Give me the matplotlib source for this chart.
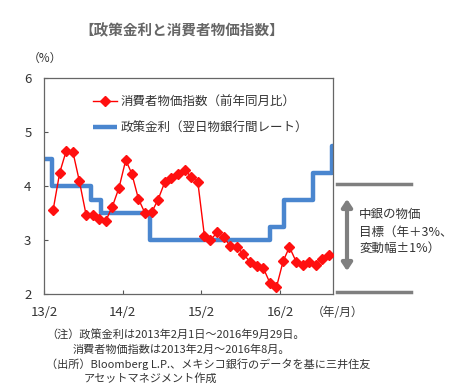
import matplotlib
matplotlib.use("Agg")
import matplotlib.pyplot as plt
import matplotlib.dates as mdates
import pandas as pd
import numpy as np

plt.rcParams['font.family'] = ['Noto Sans CJK JP', 'DejaVu Sans']

# CPI (YoY %), monthly Feb 2013 - Aug 2016
cpi_months = pd.date_range("2013-02-15", periods=43, freq="MS") + pd.Timedelta(days=14)
cpi_values = [3.55, 4.25, 4.65, 4.63, 4.09, 3.47, 3.46, 3.39, 3.36, 3.62, 3.97,
              4.48, 4.23, 3.76, 3.50, 3.51, 3.75, 4.07, 4.15, 4.22, 4.30, 4.17, 4.08,
              3.07, 3.00, 3.14, 3.06, 2.88, 2.87, 2.74, 2.59, 2.52, 2.48, 2.21, 2.13,
              2.61, 2.87, 2.60, 2.54, 2.60, 2.54, 2.65, 2.73]

# Policy rate change dates and levels
rate_dates = pd.to_datetime(["2013-02-01", "2013-03-08", "2013-09-06", "2013-10-25",
                             "2014-06-06", "2015-12-17", "2016-02-17", "2016-06-30",
                             "2016-09-29", "2016-10-03"])
rate_values = [4.50, 4.00, 3.75, 3.50, 3.00, 3.25, 3.75, 4.25, 4.75, 4.75]

xtick_dates = pd.to_datetime(["2013-02-01", "2014-02-01", "2015-02-01", "2016-02-01"])
xtick_labels = ["13/2", "14/2", "15/2", "16/2"]
yticks = [2, 3, 4, 5, 6]

fig = plt.figure(figsize=(4.62, 3.92), dpi=100)
ax = fig.add_axes([44/462, 1-294/392, (333-44)/462, (294-78)/392])

ax.plot(rate_dates, rate_values,
        drawstyle="steps-post", color="#4a86cf", lw=3.2, zorder=2,
        label="政策金利（翌日物銀行間レート）", solid_capstyle="butt")
ax.plot(cpi_months, cpi_values, color="#ff0000", lw=1.0, marker="D", ms=5.2,
        mfc="#ff1010", mec="#ff1010", zorder=3, label="消費者物価指数（前年同月比）")

ax.set_xlim(pd.Timestamp("2013-02-01"), pd.Timestamp("2016-10-03"))
ax.set_ylim(2, 6)
ax.set_yticks(yticks)
ax.set_xticks(xtick_dates)
ax.set_xticklabels(xtick_labels)
ax.tick_params(direction="in", length=3, color="#555555", labelsize=9.5,
               labelcolor="#333333")
ax.tick_params(axis="x", pad=9)
ax.tick_params(axis="y", pad=9)
for s in ax.spines.values():
    s.set_color("#666666")
    s.set_linewidth(0.9)

h, l = ax.get_legend_handles_labels()
leg = ax.legend(h[::-1], l[::-1], loc="upper left", bbox_to_anchor=(0.13, 0.97),
                frameon=False, fontsize=9, handlelength=1.9, labelspacing=1.05,
                handletextpad=0.3)
for t in leg.get_texts():
    t.set_color("#333333")

fig.text(182/462, 1-30/392, "【政策金利と消費者物価指数】", ha="center", va="center",
         fontsize=10.5, fontweight="bold", color="#666666")
fig.text(28/462, 1-58/392, "（%）", ha="left", va="center", fontsize=8.5, color="#333333")
fig.text(312/462, 1-313/392, "（年/月）", ha="left", va="center", fontsize=8.5, color="#333333")

# target band annotation (outside axes)
gray = "#7f7f7f"
fig.add_artist(plt.Line2D([337/462, 411/462], [1-184/392, 1-184/392], color=gray, lw=2.5))
fig.add_artist(plt.Line2D([337/462, 411/462], [1-292/392, 1-292/392], color=gray, lw=2.5))
ax_ann = fig.add_axes([0, 0, 1, 1], facecolor="none")
ax_ann.set_xlim(0, 462); ax_ann.set_ylim(392, 0); ax_ann.axis("off")
ax_ann.annotate("", xy=(347, 271), xytext=(347, 199),
                arrowprops=dict(arrowstyle="<|-|>,head_width=0.3,head_length=0.45",
                                color=gray, lw=3, shrinkA=0, shrinkB=0))
fig.text(359/462, 1-214/392, "中銀の物価", ha="left", va="center", fontsize=9, color="#333333")
fig.text(359/462, 1-232/392, "目標（年＋3%、", ha="left", va="center", fontsize=9, color="#333333")
fig.text(359/462, 1-248/392, "変動幅±1%）", ha="left", va="center", fontsize=9, color="#333333")

notes = [(46, 335, "（注）政策金利は2013年2月1日～2016年9月29日。"),
         (73, 350, "消費者物価指数は2013年2月～2016年8月。"),
         (46, 364, "（出所）Bloomberg L.P.、メキシコ銀行のデータを基に三井住友"),
         (84, 378, "アセットマネジメント作成")]
for x, y, t in notes:
    fig.text(x/462, 1-y/392, t, ha="left", va="center", fontsize=8, color="#333333")

fig.savefig("out.png", dpi=100)
